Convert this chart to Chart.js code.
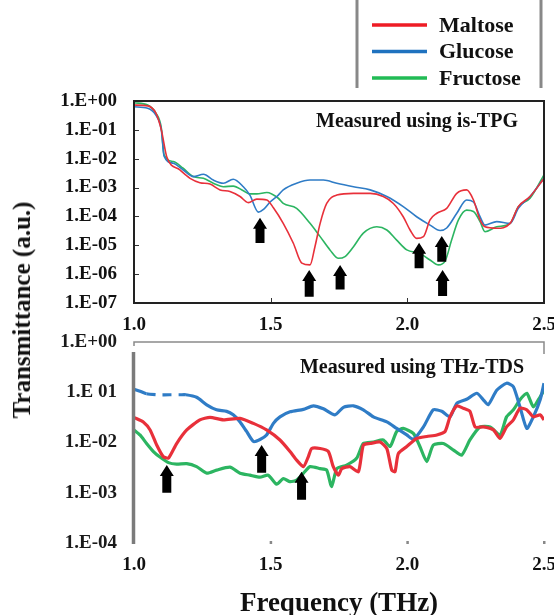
<!DOCTYPE html>
<html>
<head>
<meta charset="utf-8">
<script src="https://cdn.jsdelivr.net/npm/chart.js@4.4.1/dist/chart.umd.min.js"></script>
<style>
  html, body { margin: 0; padding: 0; background: #fff; }
  #wrap { position: relative; width: 554px; height: 615px; overflow: hidden; }
  #tpg { position: absolute; left: 0; top: 0; }
  #tds { position: absolute; left: 0; top: 326px; }
  #ytitle {
    position: absolute; left: 22px; top: 310px;
    transform: translate(-50%, -50%) rotate(-90deg);
    font: bold 25px "Liberation Serif", "Times New Roman", serif;
    white-space: nowrap; color: #111;
  }
</style>
</head>
<body>
<div id="wrap">
  <canvas id="tpg" width="554" height="336"></canvas>
  <canvas id="tds" width="554" height="289"></canvas>
  <div id="ytitle">Transmittance (a.u.)</div>
</div>
<script>
// values are log10 of the transmittance
const seriesNames = ['Maltose', 'Glucose', 'Fructose'];

// is-TPG (upper panel)
const tpgMaltoseF = [1.00, 1.05, 1.08, 1.10, 1.12, 1.168, 1.205, 1.241, 1.278, 1.315, 1.351, 1.388, 1.418, 1.449, 1.486, 1.51, 1.546, 1.583, 1.614, 1.644, 1.662, 1.681, 1.705, 1.742, 1.803, 1.864, 1.912, 1.949, 1.985, 2.010, 2.034, 2.059, 2.083, 2.108, 2.144, 2.181, 2.217, 2.242, 2.266, 2.284, 2.327, 2.376, 2.406, 2.449, 2.5];
const tpgMaltoseT = [-0.14, -0.17, -0.42, -1.00, -1.94, -2.39, -2.68, -2.83, -2.88, -3.08, -3.14, -3.31, -3.52, -3.40, -3.43, -3.70, -4.24, -4.93, -5.62, -5.68, -5.05, -4.24, -3.55, -3.26, -3.20, -3.20, -3.31, -3.55, -4.01, -4.47, -4.76, -4.70, -4.12, -3.89, -3.72, -3.20, -3.08, -3.43, -4.12, -4.36, -4.41, -4.24, -3.66, -3.31, -2.68];

const tpgGlucoseF = [1.00, 1.05, 1.08, 1.10, 1.11, 1.144, 1.18, 1.217, 1.254, 1.29, 1.327, 1.363, 1.40, 1.424, 1.455, 1.475, 1.498, 1.528, 1.546, 1.595, 1.644, 1.693, 1.742, 1.803, 1.864, 1.925, 1.985, 2.034, 2.083, 2.12, 2.144, 2.181, 2.217, 2.242, 2.266, 2.284, 2.327, 2.376, 2.406, 2.449, 2.5];
const tpgGlucoseT = [-0.20, -0.25, -0.49, -1.00, -1.91, -2.16, -2.39, -2.62, -2.54, -2.74, -2.85, -2.71, -2.97, -3.26, -3.85, -3.75, -3.50, -3.26, -3.08, -2.85, -2.74, -2.74, -2.85, -2.97, -3.08, -3.31, -3.66, -4.01, -4.30, -4.49, -4.40, -3.89, -3.43, -3.50, -4.01, -4.30, -4.18, -4.24, -3.72, -3.31, -2.68];

const tpgFructoseF = [1.00, 1.05, 1.08, 1.10, 1.11, 1.144, 1.18, 1.217, 1.254, 1.29, 1.327, 1.363, 1.40, 1.424, 1.449, 1.486, 1.528, 1.546, 1.595, 1.644, 1.681, 1.717, 1.748, 1.772, 1.803, 1.839, 1.888, 1.925, 1.961, 1.998, 2.046, 2.083, 2.114, 2.138, 2.162, 2.187, 2.217, 2.242, 2.266, 2.284, 2.327, 2.376, 2.406, 2.449, 2.5];
const tpgFructoseT = [-0.06, -0.14, -0.42, -0.94, -1.87, -2.10, -2.33, -2.62, -2.68, -2.85, -2.97, -2.95, -3.11, -3.22, -3.22, -3.17, -3.37, -3.55, -3.72, -4.24, -4.70, -5.16, -5.45, -5.39, -5.05, -4.58, -4.36, -4.47, -4.82, -5.16, -5.28, -5.51, -5.68, -5.55, -4.82, -4.12, -3.78, -3.83, -4.18, -4.53, -4.36, -4.24, -3.66, -3.37, -2.56];

// THz-TDS (lower panel)
const tdsMaltoseF = [1.00, 1.034, 1.059, 1.083, 1.107, 1.126, 1.156, 1.193, 1.241, 1.278, 1.327, 1.388, 1.437, 1.485, 1.534, 1.571, 1.595, 1.62, 1.638, 1.65, 1.681, 1.711, 1.729, 1.748, 1.76, 1.79, 1.821, 1.839, 1.864, 1.90, 1.925, 1.943, 1.955, 1.967, 1.998, 2.034, 2.071, 2.108, 2.138, 2.156, 2.181, 2.205, 2.229, 2.248, 2.278, 2.315, 2.339, 2.363, 2.388, 2.412, 2.437, 2.461, 2.486, 2.5];
const tdsMaltoseT = [-1.50, -1.59, -1.75, -2.05, -2.28, -2.31, -2.02, -1.75, -1.55, -1.50, -1.55, -1.52, -1.62, -1.75, -1.95, -2.18, -2.35, -2.48, -2.28, -2.12, -2.12, -2.18, -2.48, -2.65, -2.52, -2.48, -2.58, -2.05, -2.02, -1.99, -2.12, -2.55, -2.58, -2.22, -2.08, -1.92, -1.88, -1.85, -1.78, -1.49, -1.27, -1.32, -1.38, -1.69, -1.69, -1.75, -1.92, -1.69, -1.55, -1.32, -1.35, -1.49, -1.45, -1.55];

const tdsGlucoseF = [1.00, 1.022, 1.046, 1.09, 1.13, 1.17, 1.19, 1.229, 1.266, 1.302, 1.339, 1.363, 1.388, 1.412, 1.437, 1.461, 1.485, 1.51, 1.534, 1.571, 1.62, 1.656, 1.693, 1.735, 1.766, 1.803, 1.839, 1.876, 1.925, 1.961, 1.998, 2.022, 2.059, 2.095, 2.126, 2.156, 2.181, 2.217, 2.254, 2.278, 2.296, 2.327, 2.363, 2.388, 2.412, 2.437, 2.461, 2.486, 2.5];
const tdsGlucoseT = [-0.94, -0.98, -1.03, -1.05, -1.05, -1.05, -1.05, -1.10, -1.25, -1.35, -1.38, -1.45, -1.59, -1.78, -1.98, -1.94, -1.85, -1.62, -1.49, -1.39, -1.34, -1.27, -1.33, -1.45, -1.30, -1.27, -1.35, -1.49, -1.59, -1.72, -1.85, -1.94, -1.69, -1.35, -1.38, -1.49, -1.22, -1.14, -1.02, -1.15, -1.25, -0.96, -0.82, -0.89, -1.29, -1.72, -1.49, -1.15, -0.82];

const tdsFructoseF = [1.00, 1.022, 1.046, 1.071, 1.095, 1.126, 1.156, 1.193, 1.229, 1.266, 1.302, 1.351, 1.388, 1.424, 1.461, 1.491, 1.522, 1.546, 1.571, 1.595, 1.62, 1.644, 1.681, 1.705, 1.723, 1.742, 1.778, 1.815, 1.839, 1.876, 1.912, 1.937, 1.961, 1.985, 2.022, 2.046, 2.071, 2.095, 2.132, 2.169, 2.199, 2.229, 2.266, 2.303, 2.339, 2.363, 2.388, 2.412, 2.437, 2.461, 2.486, 2.5];
const tdsFructoseT = [-1.75, -1.85, -2.02, -2.18, -2.29, -2.40, -2.43, -2.42, -2.48, -2.61, -2.55, -2.49, -2.61, -2.65, -2.69, -2.65, -2.83, -2.72, -2.78, -2.75, -2.61, -2.48, -2.52, -2.55, -2.88, -2.52, -2.45, -2.31, -2.02, -1.99, -1.95, -2.08, -1.78, -1.72, -1.82, -2.08, -2.38, -2.05, -2.02, -2.15, -2.25, -1.95, -1.69, -1.69, -1.85, -1.49, -1.35, -1.15, -1.02, -1.29, -1.09, -0.96];

// absorption arrows: frequency, tip and tail (log10 T)
const tpgArrowF = [1.461, 1.641, 1.754, 2.043, 2.126, 2.129];
const tpgArrowTip = [-4.05, -5.86, -5.68, -4.91, -4.68, -5.86];
const tpgArrowTail = [-4.92, -6.78, -6.53, -5.80, -5.57, -6.76];
const tdsArrowF = [1.12, 1.467, 1.613];
const tdsArrowTip = [-2.45, -2.05, -2.58];
const tdsArrowTail = [-3.0, -2.60, -3.14];

const freqTicks = [1.0, 1.5, 2.0, 2.5];
const tpgYTicks = [0, -1, -2, -3, -4, -5, -6, -7];
const tpgYLabels = ['1.E+00', '1.E-01', '1.E-02', '1.E-03', '1.E-04', '1.E-05', '1.E-06', '1.E-07'];
const tdsYTicks = [0, -1, -2, -3, -4];
const tdsYLabels = ['1.E+00', '1.E 01', '1.E-02', '1.E-03', '1.E-04'];

const colors = ['#e8303a', '#2f7cc6', '#2cb561'];
const SERIF = '"Liberation Serif", "Times New Roman", serif';
Chart.defaults.font.family = SERIF;
Chart.defaults.color = '#111';

function pts(fs, ts) { return fs.map((f, i) => ({ x: f, y: ts[i] })); }

const arrowPlugin = {
  id: 'arrows',
  afterDatasetsDraw(chart, args, opts) {
    const ctx = chart.ctx, xs = chart.scales.x, ys = chart.scales.y;
    ctx.save();
    ctx.fillStyle = '#000';
    opts.f.forEach((f, i) => {
      const x = xs.getPixelForValue(f);
      const yt = ys.getPixelForValue(opts.tip[i]);
      const yb = ys.getPixelForValue(opts.tail[i]);
      const hw = 7, sw = 4.5, hl = 11;
      ctx.beginPath();
      ctx.moveTo(x, yt);
      ctx.lineTo(x + hw, yt + hl);
      ctx.lineTo(x + sw, yt + hl);
      ctx.lineTo(x + sw, yb);
      ctx.lineTo(x - sw, yb);
      ctx.lineTo(x - sw, yt + hl);
      ctx.lineTo(x - hw, yt + hl);
      ctx.closePath();
      ctx.fill();
    });
    ctx.restore();
  }
};

const panelTitle = {
  id: 'panelTitle',
  afterDraw(chart, args, opts) {
    const ctx = chart.ctx, a = chart.chartArea;
    ctx.save();
    ctx.font = opts.font;
    ctx.fillStyle = '#111';
    ctx.textAlign = 'center';
    ctx.textBaseline = 'middle';
    ctx.fillText(opts.text, a.left + opts.dx, a.top + opts.dy);
    ctx.restore();
  }
};

const tpgFrame = {
  id: 'tpgFrame',
  afterDraw(chart) {
    const ctx = chart.ctx, a = chart.chartArea, xs = chart.scales.x, ys = chart.scales.y;
    ctx.save();
    ctx.strokeStyle = '#333';
    ctx.lineWidth = 1;
    tpgYTicks.forEach(v => {
      const y = Math.round(ys.getPixelForValue(v)) + 0.5;
      ctx.beginPath(); ctx.moveTo(a.left, y); ctx.lineTo(a.left + 5, y); ctx.stroke();
    });
    freqTicks.forEach(v => {
      const x = Math.round(xs.getPixelForValue(v)) + 0.5;
      ctx.beginPath(); ctx.moveTo(x, a.bottom); ctx.lineTo(x, a.bottom - 5); ctx.stroke();
    });
    ctx.strokeStyle = '#222';
    ctx.lineWidth = 2;
    ctx.strokeRect(a.left, a.top, a.right - a.left, a.bottom - a.top);
    ctx.restore();
  }
};

const tdsFrame = {
  id: 'tdsFrame',
  afterDraw(chart) {
    const ctx = chart.ctx, a = chart.chartArea, xs = chart.scales.x;
    ctx.save();
    ctx.strokeStyle = '#8a8a8a';
    ctx.lineWidth = 1.5;
    ctx.beginPath();
    ctx.moveTo(a.left, a.top + 4);
    ctx.lineTo(a.left, a.top);
    ctx.lineTo(a.right, a.top);
    ctx.lineTo(a.right, a.top + 12);
    ctx.stroke();
    ctx.strokeStyle = '#7b7b7b';
    ctx.lineWidth = 3.5;
    ctx.beginPath();
    ctx.moveTo(a.left - 0.5, a.top + 10);
    ctx.lineTo(a.left - 0.5, a.bottom + 1);
    ctx.stroke();
    ctx.fillStyle = '#888';
    freqTicks.slice(1).forEach(v => {
      const x = xs.getPixelForValue(v);
      ctx.fillRect(x - 1, a.bottom - 2, 2.5, 3);
    });
    ctx.restore();
  }
};

const legendBox = {
  id: 'legendBox',
  afterDraw(chart) {
    const ctx = chart.ctx;
    ctx.save();
    ctx.strokeStyle = '#888';
    ctx.lineWidth = 3;
    [357, 541].forEach(x => {
      ctx.beginPath(); ctx.moveTo(x, 0); ctx.lineTo(x, 88); ctx.stroke();
    });
    ctx.font = 'bold 22px ' + SERIF;
    ctx.textBaseline = 'middle';
    ctx.fillStyle = '#111';
    chart.data.datasets.forEach((ds, i) => {
      const y = 25 + i * 26.5;
      ctx.strokeStyle = ds.legendColor;
      ctx.lineWidth = 3.5;
      ctx.beginPath(); ctx.moveTo(372, y); ctx.lineTo(427, y); ctx.stroke();
      ctx.fillText(ds.label, 439, y + 1);
    });
    ctx.restore();
  }
};

function xScale(pad, height, title) {
  return {
    type: 'linear', min: 1, max: 2.5,
    grid: { display: false, drawTicks: false },
    border: { display: false },
    afterBuildTicks: s => { s.ticks = freqTicks.map(v => ({ value: v })); },
    afterFit: s => { s.height = height; s.paddingLeft = 0; s.paddingRight = 0; },
    ticks: {
      padding: pad, maxRotation: 0, autoSkip: false,
      font: { size: 19, weight: 'bold' },
      callback: v => v.toFixed(1)
    },
    title: title
  };
}

function yScale(ticks, labels, color) {
  return {
    type: 'linear', min: Math.min(...ticks), max: Math.max(...ticks),
    grid: { display: false, drawTicks: false },
    border: { display: false },
    afterBuildTicks: s => { s.ticks = ticks.map(v => ({ value: v })); },
    afterFit: s => { s.width = 134; s.paddingTop = 0; s.paddingBottom = 0; },
    ticks: {
      padding: 17, autoSkip: false, color: color,
      font: { size: 19, weight: 'bold' },
      callback: v => labels[ticks.indexOf(v)]
    }
  };
}

function lineSet(i, data, width, extra) {
  return Object.assign({
    label: seriesNames[i],
    data: data,
    borderColor: colors[i],
    legendColor: ['#ee1c25', '#1f72bf', '#22bb55'][i],
    borderWidth: width,
    pointRadius: 0,
    fill: false
  }, extra || {});
}

new Chart(document.getElementById('tpg').getContext('2d'), {
  type: 'line',
  data: {
    datasets: [
      lineSet(0, pts(tpgMaltoseF, tpgMaltoseT), 1.6, { cubicInterpolationMode: 'monotone' }),
      lineSet(1, pts(tpgGlucoseF, tpgGlucoseT), 1.6, { cubicInterpolationMode: 'monotone' }),
      lineSet(2, pts(tpgFructoseF, tpgFructoseT), 1.6, { cubicInterpolationMode: 'monotone' })
    ]
  },
  options: {
    responsive: false,
    animation: false,
    devicePixelRatio: 1,
    layout: { padding: { top: 101, right: 10, left: 0, bottom: 0 } },
    plugins: {
      legend: { display: false },
      tooltip: { enabled: false },
      arrows: { f: tpgArrowF, tip: tpgArrowTip, tail: tpgArrowTail },
      panelTitle: { text: 'Measured using is-TPG', font: 'bold 20px ' + SERIF, dx: 283, dy: 21 }
    },
    scales: {
      x: xScale(11, 33),
      y: yScale(tpgYTicks, tpgYLabels, '#111')
    }
  },
  plugins: [tpgFrame, arrowPlugin, panelTitle, legendBox]
});

new Chart(document.getElementById('tds').getContext('2d'), {
  type: 'line',
  data: {
    datasets: [
      lineSet(0, pts(tdsMaltoseF, tdsMaltoseT), 3.2, { tension: 0.2 }),
      lineSet(1, pts(tdsGlucoseF, tdsGlucoseT), 3.2, {
        tension: 0.2,
        segment: {
          borderDash: c => (c.p0.parsed.x >= 1.04 && c.p1.parsed.x <= 1.2) ? [9, 7] : undefined
        }
      }),
      lineSet(2, pts(tdsFructoseF, tdsFructoseT), 3.2, { tension: 0.2 })
    ]
  },
  options: {
    responsive: false,
    animation: false,
    devicePixelRatio: 1,
    layout: { padding: { top: 16, right: 10, left: 0, bottom: 0 } },
    plugins: {
      legend: { display: false },
      tooltip: { enabled: false },
      arrows: { f: tdsArrowF, tip: tdsArrowTip, tail: tdsArrowTail },
      panelTitle: { text: 'Measured using THz-TDS', font: 'bold 20px ' + SERIF, dx: 278, dy: 26 }
    },
    scales: {
      x: xScale(11, 72, {
        display: true, text: 'Frequency (THz)', color: '#111',
        font: { size: 27, weight: 'bold', lineHeight: 0.8 },
        padding: { top: 0, bottom: 0 }
      }),
      y: yScale(tdsYTicks, tdsYLabels, '#1a1a1a')
    }
  },
  plugins: [tdsFrame, arrowPlugin, panelTitle]
});
</script>
</body>
</html>
